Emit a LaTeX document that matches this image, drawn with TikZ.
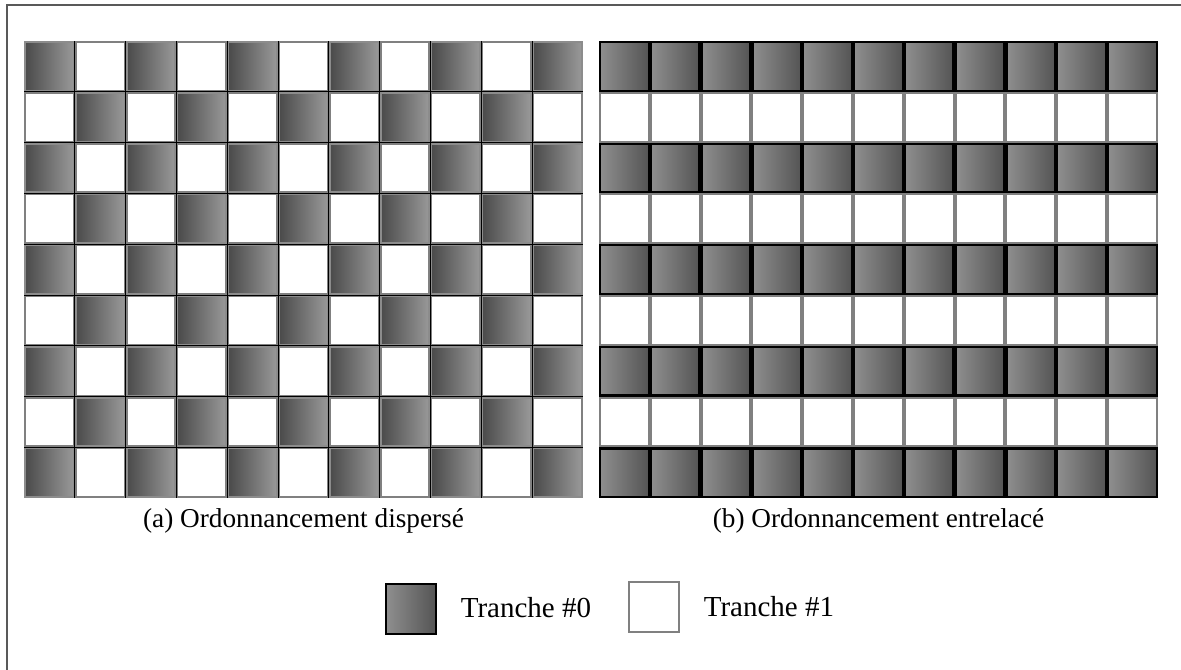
\documentclass[tikz,border=0pt]{standalone}
\usepackage{fontspec}
\setmainfont{Liberation Serif}
\usepackage{tikz}
\tikzstyle{cell} = [rectangle, inner sep=0pt, minimum size=19.5pt]
\tikzstyle{spreadcell} = [cell, draw=black!45, line width=0.8pt,
                 left color=black!71, right color=black!40]
\tikzstyle{blankcell} = [cell, draw=black!50, line width=0.8pt, fill=white]
\tikzstyle{bandcell} = [cell, draw=black, line width=0.9pt,
                 left color=black!44, right color=black!67]
\tikzstyle{caption} = [font=\fontsize{10.9}{13}\selectfont]
\tikzstyle{keytext} = [font=\fontsize{11.6}{14}\selectfont, anchor=west]

\begin{document}
\begin{tikzpicture}[x=0.4pt, y=-0.4pt]

\useasboundingbox (0,0) rectangle (1181,669);
\draw[black!65, line width=0.5pt] (1200,5) -- (7,5) -- (7,690);

	%grid (a): checkerboard
\foreach \r in {0,...,8}
	\foreach \c in {0,...,10} {
		\pgfmathtruncatemacro\odd{mod(\r+\c,2)}
		\ifnum\odd=0
			\node [spreadcell] (a-\r-\c) at (24+50.8*\c+25.4, 41+50.8*\r+25.4) {};
		\else
			\node [blankcell] (a-\r-\c) at (24+50.8*\c+25.4, 41+50.8*\r+25.4) {};
		\fi
	}
\foreach \c in {1,...,10}
	\draw[line width=0.35pt] (a-0-\c.north west) -- (a-8-\c.south west);
\foreach \r in {1,...,8}
	\draw[line width=0.35pt] (a-\r-0.north west) -- (a-\r-10.north east);

	%grid (b): rows
\foreach \r in {0,...,8}
	\foreach \c in {0,...,10} {
		\pgfmathtruncatemacro\odd{mod(\r,2)}
		\ifnum\odd=0
			\node [bandcell] (b-\r-\c) at (599+50.8*\c+25.4, 41+50.8*\r+25.4) {};
		\else
			\node [blankcell] (b-\r-\c) at (599+50.8*\c+25.4, 41+50.8*\r+25.4) {};
		\fi
	}

\node [caption] (capa) at (303.5,521) {(a) Ordonnancement dispersé};
\node [caption] (capb) at (878.5,521) {(b) Ordonnancement entrelacé};

	%legend
\node [bandcell, minimum size=20pt] (key0) at (411,609) {};
\node [keytext] (txt0) at (452,608) {Tranche \#0};
\node [blankcell, minimum size=20pt] (key1) at (654,607) {};
\node [keytext] (txt1) at (695,607) {Tranche \#1};

\end{tikzpicture}
\end{document}
